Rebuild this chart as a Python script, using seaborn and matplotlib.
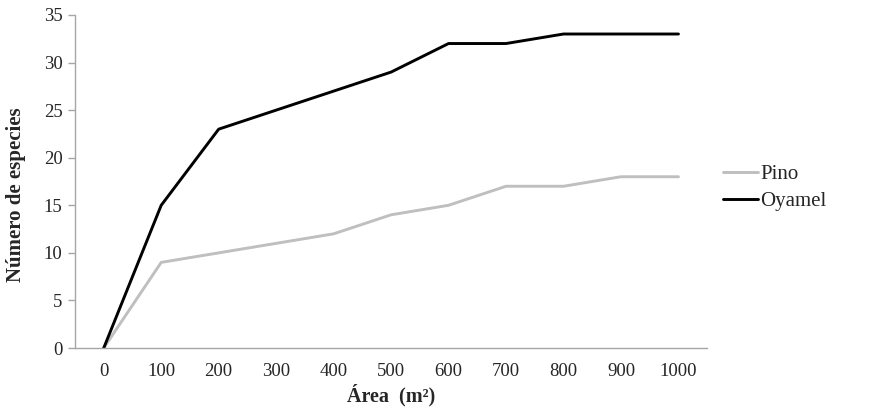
import pandas as pd
import matplotlib
matplotlib.use("Agg")
import matplotlib.pyplot as plt
import matplotlib.ticker as ticker
import seaborn as sns

area = [0, 100, 200, 300, 400, 500, 600, 700, 800, 900, 1000]
pino = [0, 9, 10, 11, 12, 14, 15, 17, 17, 18, 18]
oyamel = [0, 15, 23, 25, 27, 29, 32, 32, 33, 33, 33]

series_names = ["Pino", "Oyamel"]
series_colors = {"Pino": "#BFBFBF", "Oyamel": "#000000"}

rows = []
for i, a in enumerate(area):
    rows.append({"pos": i, "Área": a, "serie": "Pino", "especies": pino[i]})
for i, a in enumerate(area):
    rows.append({"pos": i, "Área": a, "serie": "Oyamel", "especies": oyamel[i]})
df = pd.DataFrame(rows)

sns.set_style("white")
plt.rcParams["font.family"] = ["Liberation Serif", "DejaVu Serif"]

fig = plt.figure(figsize=(8.69, 4.15), dpi=100)
ax = fig.add_axes([0.0863, 0.1614, 0.7275, 0.8025])

sns.lineplot(data=df, x="pos", y="especies", hue="serie", hue_order=series_names,
             palette=series_colors, linewidth=2.1, ax=ax, legend=False)

ax.set_xlim(-0.5, len(area) - 0.5)
ax.set_ylim(0, 35)
ax.yaxis.set_major_locator(ticker.MultipleLocator(5))
ax.set_xticks(range(len(area)))
ax.set_xticklabels([str(a) for a in area])
ax.xaxis.set_minor_locator(ticker.FixedLocator([k - 0.5 for k in range(len(area) + 1)]))

for side in ["top", "right"]:
    ax.spines[side].set_visible(False)
for side in ["left", "bottom"]:
    ax.spines[side].set_color("#A6A6A6")
    ax.spines[side].set_linewidth(1.0)

ax.tick_params(axis="x", which="major", length=0, pad=11, labelsize=13.5)
ax.tick_params(axis="x", which="minor", length=5, color="#A6A6A6", width=1.0)
ax.tick_params(axis="y", which="major", length=5, color="#A6A6A6", width=1.0,
               left=True, labelsize=13.5, pad=4)

ax.set_xlabel("Área  (m²)", fontsize=14.5, fontweight="bold", labelpad=3)
ax.set_ylabel("Número de especies", fontsize=15, fontweight="bold")
ax.yaxis.set_label_coords(-0.078, 0.46)

handles = [plt.Line2D([], [], color=series_colors[s], linewidth=2.1) for s in series_names]
fig.legend(handles, series_names, loc="upper left", bbox_to_anchor=(0.832, 0.603),
           frameon=False, fontsize=15, handlelength=1.7, handletextpad=0.1,
           labelspacing=0.35, borderpad=0, borderaxespad=0)

fig.savefig("out.png", dpi=100)
